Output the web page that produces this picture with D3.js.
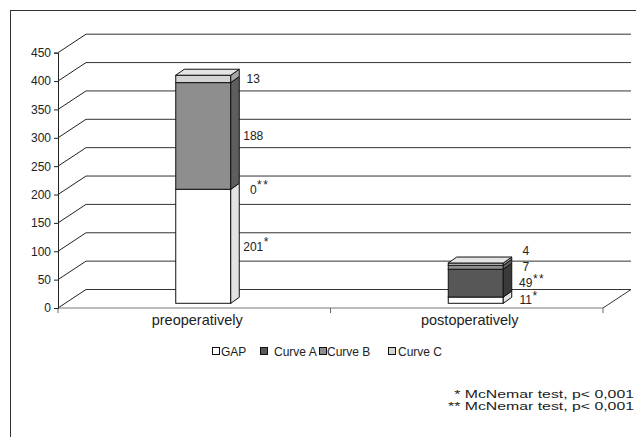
<!DOCTYPE html>
<html>
<head>
<meta charset="utf-8">
<script src="https://cdn.jsdelivr.net/npm/d3@7/dist/d3.min.js"></script>
<style>
  html, body { margin: 0; padding: 0; background: #fff; }
  svg { display: block; font-family: "Liberation Sans", Arial, sans-serif; }
</style>
</head>
<body>
<svg id="chart" width="636" height="437"></svg>
<script>
// ---- data ----
const categories = ["preoperatively", "postoperatively"];
const seriesNames = ["GAP", "Curve A", "Curve B", "Curve C"];
const gapValues    = [201, 11];
const curveAValues = [0, 49];
const curveBValues = [188, 7];
const curveCValues = [13, 4];
// significance markers printed after each value
const gapMarks    = ["*", "*"];
const curveAMarks = ["**", "**"];
const curveBMarks = ["", ""];
const curveCMarks = ["", ""];
const yTicks = [0, 50, 100, 150, 200, 250, 300, 350, 400, 450];
const footnotes = ["* McNemar test, p< 0,001", "** McNemar test, p< 0,001"];

// ---- styling ----
const faceFront = ["#ffffff", "#575757", "#8e8e8e", "#d4d4d4"];
const faceSide  = ["#e2e2e2", "#3a3a3a", "#5e5e5e", "#a6a6a6"];
const faceTop   = ["#f4f4f4", "#6c6c6c", "#a4a4a4", "#e4e4e4"];
const textColor = "#222";
const fontFamily = "'Liberation Sans', Arial, sans-serif";

const svg = d3.select("#chart");

// outer frame
svg.append("rect").attr("x", 10.5).attr("y", 10.5).attr("width", 700).attr("height", 500)
  .attr("fill", "none").attr("stroke", "#333").attr("stroke-width", 1);

// plot geometry: front plane + depth vector of the 3D box
const plot = { left: 58, right: 603, bottom: 308, top: 52.7 };
const depth = { x: 28, y: -18.5 };

const y = d3.scaleLinear().domain([0, 450]).range([plot.bottom, plot.top]);
const x = d3.scaleBand().domain(categories).range([plot.left, plot.right]);

// back wall gridlines with their slanted connectors to the axis
const grid = svg.append("g");
yTicks.forEach(t => {
  const yy = y(t);
  grid.append("line")
    .attr("x1", plot.left).attr("y1", yy)
    .attr("x2", plot.left + depth.x).attr("y2", yy + depth.y)
    .attr("stroke", "#222").attr("stroke-width", 1);
  grid.append("line")
    .attr("x1", plot.left + depth.x).attr("y1", yy + depth.y)
    .attr("x2", plot.right + depth.x).attr("y2", yy + depth.y)
    .attr("stroke", "#333").attr("stroke-width", 1);
});

// floor: front edge and right slanted edge
svg.append("line")
  .attr("x1", plot.left).attr("y1", plot.bottom).attr("x2", plot.right).attr("y2", plot.bottom)
  .attr("stroke", "#777").attr("stroke-width", 1);
svg.append("line")
  .attr("x1", plot.right).attr("y1", plot.bottom)
  .attr("x2", plot.right + depth.x).attr("y2", plot.bottom + depth.y)
  .attr("stroke", "#333").attr("stroke-width", 1);

// category ticks along the floor front edge
const catTicks = [plot.left].concat(categories.map(c => x(c) + x.bandwidth()));
catTicks.forEach(cx => {
  svg.append("line").attr("x1", cx).attr("y1", plot.bottom).attr("x2", cx).attr("y2", plot.bottom + 5)
    .attr("stroke", "#666").attr("stroke-width", 1);
});

// y axis
const yAxis = d3.axisLeft(y).tickValues(yTicks).tickSize(4).tickPadding(3);
const yAxisG = svg.append("g").attr("transform", `translate(${plot.left},0)`).call(yAxis)
  .attr("font-family", fontFamily);
yAxisG.select(".domain").attr("stroke", "#222");
yAxisG.selectAll(".tick line").attr("stroke", "#222");
yAxisG.selectAll(".tick text").attr("font-size", 12).attr("fill", textColor);

// category labels
categories.forEach(c => {
  svg.append("text")
    .attr("x", x(c) + x.bandwidth() / 2 + 3).attr("y", 325)
    .attr("text-anchor", "middle").attr("font-size", 14.5).attr("fill", textColor)
    .text(c);
});

// ---- stacked 3D bars ----
const seriesValues = [gapValues, curveAValues, curveBValues, curveCValues];
const seriesMarks = [gapMarks, curveAMarks, curveBMarks, curveCMarks];
const barWidth = 55;
const barShift = { x: 9, y: -4.7 };   // bar sits a little back from the floor front edge
const barDepth = { x: 8.5, y: -6 };

const stack = d3.stack().keys(d3.range(seriesNames.length))
  .value((d, k) => seriesValues[k][d]);
const layers = stack(d3.range(categories.length));

const bars = svg.append("g");
const labels = [];
categories.forEach((c, ci) => {
  const x0 = x(c) + x.bandwidth() / 2 + barShift.x - barWidth / 2;
  const x1 = x0 + barWidth;
  const topIdx = d3.max(layers.map((l, k) => (l[ci][1] > l[ci][0] ? k : -1)));
  layers.forEach((layer, k) => {
    const [v0, v1] = layer[ci];
    const yb = y(v0) + barShift.y;
    const yt = y(v1) + barShift.y;
    if (v1 > v0) {
      bars.append("rect").attr("x", x0).attr("y", yt).attr("width", barWidth).attr("height", yb - yt)
        .attr("fill", faceFront[k]).attr("stroke", "#111").attr("stroke-width", 1);
      bars.append("path")
        .attr("d", `M${x1},${yb}L${x1 + barDepth.x},${yb + barDepth.y}L${x1 + barDepth.x},${yt + barDepth.y}L${x1},${yt}Z`)
        .attr("fill", faceSide[k]).attr("stroke", "#111").attr("stroke-width", 1);
      if (k === topIdx) {
        bars.append("path")
          .attr("d", `M${x0},${yt}L${x0 + barDepth.x},${yt + barDepth.y}L${x1 + barDepth.x},${yt + barDepth.y}L${x1},${yt}Z`)
          .attr("fill", faceTop[k]).attr("stroke", "#111").attr("stroke-width", 1);
      }
    }
    labels.push({ ci, k, value: seriesValues[k][ci], mark: seriesMarks[k][ci],
                  cx: x1 + barDepth.x + 14, cy: (yb + yt) / 2 });
  });
});

// value labels: centred on their segment, pushed upward when they would collide
const minGap = 16;
categories.forEach((c, ci) => {
  const ls = labels.filter(l => l.ci === ci).sort((a, b) => a.k - b.k);
  for (let i = 1; i < ls.length; i++) {
    if (ls[i - 1].cy - ls[i].cy < minGap && ls[i].value < 20) ls[i].cy = ls[i - 1].cy - minGap;
  }
});

const labelG = svg.append("g");
labels.forEach(l => {
  const t = labelG.append("text")
    .attr("x", l.cx).attr("y", l.cy + 4.3)
    .attr("text-anchor", "middle").attr("font-size", 12).attr("fill", textColor)
    .text(l.value);
  if (l.mark) {
    const w = t.node().getComputedTextLength();
    labelG.append("text")
      .attr("x", l.cx + w / 2 + 0.5).attr("y", l.cy - 0.5)
      .attr("font-size", 12).attr("letter-spacing", 1.5).attr("fill", textColor)
      .text(l.mark);
  }
});

// ---- legend ----
const legendSquareX = [212, 260, 319, 388];
const legendTextX = [221, 274, 327, 398];
const legend = svg.append("g");
seriesNames.forEach((name, k) => {
  legend.append("rect").attr("x", legendSquareX[k] + 0.5).attr("y", 347.5)
    .attr("width", 7).attr("height", 7)
    .attr("fill", faceFront[k]).attr("stroke", "#111").attr("stroke-width", 1);
  legend.append("text").attr("x", legendTextX[k]).attr("y", 355.5)
    .attr("font-size", 12).attr("fill", textColor).text(name);
});

// ---- footnotes (right aligned, horizontally widened) ----
const fnRight = 634;
const fnBaselines = [398, 410];
const fnWidth = 180;
const fnG = svg.append("g");
const fnNodes = footnotes.map((f, i) => fnG.append("text")
  .attr("font-size", 10.5).attr("fill", textColor).attr("text-anchor", "end").text(f));
const sx = fnWidth / fnNodes[0].node().getComputedTextLength();
fnNodes.forEach((n, i) => n.attr("transform", `translate(${fnRight},${fnBaselines[i]}) scale(${sx},1)`));
</script>
</body>
</html>
